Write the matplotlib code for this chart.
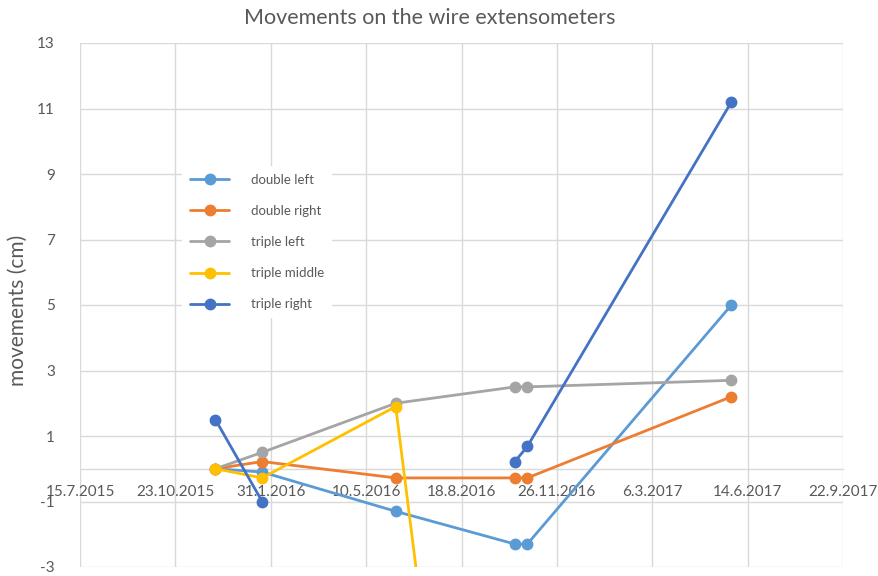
import datetime as dt
import numpy as np
import matplotlib
matplotlib.use("Agg")
import matplotlib.pyplot as plt
import matplotlib.dates as mdates
from matplotlib.ticker import FuncFormatter, FixedLocator

# Measurement dates
dates = [
    dt.date(2015, 12, 4),
    dt.date(2016, 1, 22),
    dt.date(2016, 6, 10),
    dt.date(2016, 10, 13),
    dt.date(2016, 10, 26),
    dt.date(2017, 5, 28),
]

# Movements (cm) per extensometer; NaN = no reading
double_left = [0.0, -0.1, -1.3, -2.3, -2.3, 5.0]
double_right = [0.0, 0.22, -0.28, -0.28, -0.28, 2.2]
triple_left = [0.0, 0.5, 2.0, 2.5, 2.5, 2.7]
triple_middle = [0.0, -0.28, 1.9, -27.0, np.nan, np.nan]
triple_right = [1.5, -1.0, np.nan, 0.22, 0.68, 11.2]

series_names = ["double left", "double right", "triple left", "triple middle", "triple right"]
series_values = [double_left, double_right, triple_left, triple_middle, triple_right]
series_colors = ["#5B9BD5", "#ED7D31", "#A5A5A5", "#FFC000", "#4472C4"]

x_start = dt.date(2015, 7, 15)
x_tick_dates = [x_start + dt.timedelta(days=100 * k) for k in range(9)]
y_ticks = list(range(-3, 14, 2))

plt.rcParams["font.family"] = ["Lato", "DejaVu Sans"]
plt.rcParams["axes.unicode_minus"] = False
text_color = "#595959"
grid_color = "#D9D9D9"

fig = plt.figure(figsize=(8.79, 5.76), dpi=100)
ax = fig.add_axes([80 / 879, 1 - 567 / 576, 763 / 879, 524 / 576])

xnum = mdates.date2num(dates)
for name, vals, col in zip(series_names, series_values, series_colors):
    ax.plot(xnum, vals, color=col, lw=2.0, marker="o", ms=7.5,
            label=name, solid_capstyle="round", zorder=3)

ax.set_xlim(mdates.date2num(x_tick_dates[0]), mdates.date2num(x_tick_dates[-1]))
ax.set_ylim(-3, 13)

ax.xaxis.set_major_locator(FixedLocator(mdates.date2num(x_tick_dates)))
ax.xaxis.set_major_formatter(FuncFormatter(
    lambda v, p: (lambda d: f"{d.day}.{d.month}.{d.year}")(mdates.num2date(v))))
ax.yaxis.set_major_locator(FixedLocator(y_ticks))

ax.grid(True, color=grid_color, lw=1.0, zorder=0)
for s in ["top", "right", "left"]:
    ax.spines[s].set_visible(False)
ax.spines["bottom"].set_position(("data", 0))
ax.spines["bottom"].set_color(grid_color)
ax.spines["bottom"].set_linewidth(1.0)

ax.tick_params(axis="both", length=0, labelsize=11, labelcolor=text_color)
ax.tick_params(axis="x", pad=11.5)
ax.tick_params(axis="y", pad=18)

ax.set_ylabel("movements (cm)", fontsize=15, color=text_color)
ax.yaxis.set_label_coords(-0.068, 0.49)

fig.text(430 / 879, 1 - 18 / 576, "Movements on the wire extensometers",
         ha="center", va="center", fontsize=15.5, color=text_color)

leg = ax.legend(loc="upper left", bbox_to_anchor=(0.125, 0.778), fontsize=9.5,
                frameon=True, facecolor="white", edgecolor="none", framealpha=1,
                handlelength=3.0, handletextpad=1.6, labelspacing=1.45,
                borderpad=0.6)
for t in leg.get_texts():
    t.set_color(text_color)
leg.set_zorder(2)

fig.savefig("out.png", dpi=100, facecolor="white")
